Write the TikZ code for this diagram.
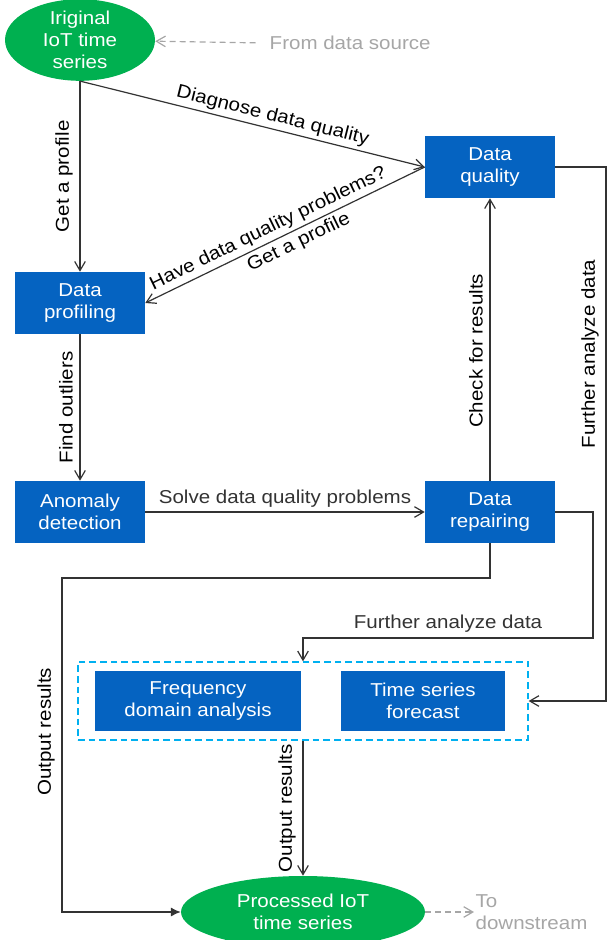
\documentclass[tikz,border=0pt]{standalone}
\usepackage{fontspec}
\setmainfont{Liberation Sans}[FakeStretch=1.1]
\usetikzlibrary{shapes.geometric,arrows.meta,positioning,fit,calc}
\definecolor{boxblue}{HTML}{0563C1}
\definecolor{termgreen}{HTML}{00B050}
\definecolor{grpcyan}{HTML}{00B0F0}
\definecolor{extgray}{HTML}{A6A6A6}
\definecolor{linegray}{HTML}{333333}

\begin{document}
\begin{tikzpicture}[
  x=0.75pt, y=-0.75pt,
  every node/.style={font=\fontsize{14}{16.5}\selectfont},
  box/.style={fill=boxblue, text=white, minimum width=97.5pt,
              minimum height=46.5pt, align=center, inner sep=2pt},
  term/.style={ellipse, fill=termgreen, text=white, align=center, inner sep=0pt},
  grp/.style={draw=grpcyan, dash pattern=on 5pt off 3pt, line width=1pt,
              minimum width=337.5pt, minimum height=58.5pt},
  arr/.style={-{Straight Barb[length=2.4mm,width=2.8mm]}, line width=0.9pt, color=linegray},
  ext/.style={-{Straight Barb[length=2.4mm,width=2.8mm]}, dash pattern=on 4.5pt off 3pt,
              line width=0.9pt, color=extgray},
  vlbl/.style={rotate=90, anchor=south, inner sep=5pt, text=black},
  slbl/.style={sloped, inner sep=2.5pt, text=black}
]
\useasboundingbox (0,0) rectangle (608,940);

% terminals
\node[term, minimum width=112.5pt, minimum height=55.5pt] (orig) at (80,40) {Iriginal\\IoT time\\series};
\node[term, minimum width=183pt, minimum height=54pt] (proc) at (303,912) {Processed IoT\\time series};
\node[text=extgray, anchor=west] (src) at (265,43) {From data source};
\node[text=extgray, anchor=west, align=left, inner sep=1pt] (down) at (474,912) {To\\downstream};

% processing steps
\node[box] (dq)   at (490,167) {Data\\quality};
\node[box] (prof) at (80,303)  {Data\\profiling};
\node[box] (anom) at (80,512)  {Anomaly\\detection};
\node[box] (rep)  at (490,512) {Data\\repairing};
\node[grp] (grpbox) at (303,701) {};
\node[box, minimum width=155pt, minimum height=45pt] (freq) at (198,701) {Frequency\\domain analysis};
\node[box, minimum width=123pt, minimum height=45pt] (fcst) at (423,701) {Time series\\forecast};

% bend points
\coordinate (rbend)  at (606,0);
\coordinate (rbend2) at (593,638);
\coordinate (lbend)  at (62,578);

\draw[ext, shorten <=7pt] (src.west) -- (orig);
\draw[ext] (proc.east) -- (down.west);

\draw[arr] (orig.south) -- node[vlbl, midway] {Get a profile} (prof.north);
\draw[arr] (orig.south) -- node[slbl, above, pos=0.55] {Diagnose data quality} (dq.west);
\draw[arr] (dq.west) -- node[slbl, above, pos=0.54] {Have data quality problems?}
                        node[slbl, below, pos=0.47] {Get a profile} (prof.east);
\draw[arr] (prof.south) -- node[vlbl, midway] {Find outliers} (anom.north);
\draw[arr] (anom.east) -- node[above, inner sep=3pt] {Solve data quality problems} (rep.west);
\draw[arr] (rep.north) -- node[vlbl, pos=0.46] {Check for results} (dq.south);
\draw[arr] (dq.east) -- (dq.east -| rbend)
  -- node[vlbl, pos=0.35] {Further analyze data} (grpbox.east -| rbend) -- (grpbox.east);
\draw[arr] (rep.east) -| (rbend2) -| node[pos=0.25, above, inner sep=4pt] {Further analyze data} (grpbox.north);
\draw[arr, -{Latex[length=2.6mm,width=2.4mm]}] (rep.south) |- (lbend)
  |- node[vlbl, pos=0.23] {Output results} (proc.west);
\draw[arr] (grpbox.south) -- node[vlbl, midway] {Output results} (proc.north);
\end{tikzpicture}
\end{document}
